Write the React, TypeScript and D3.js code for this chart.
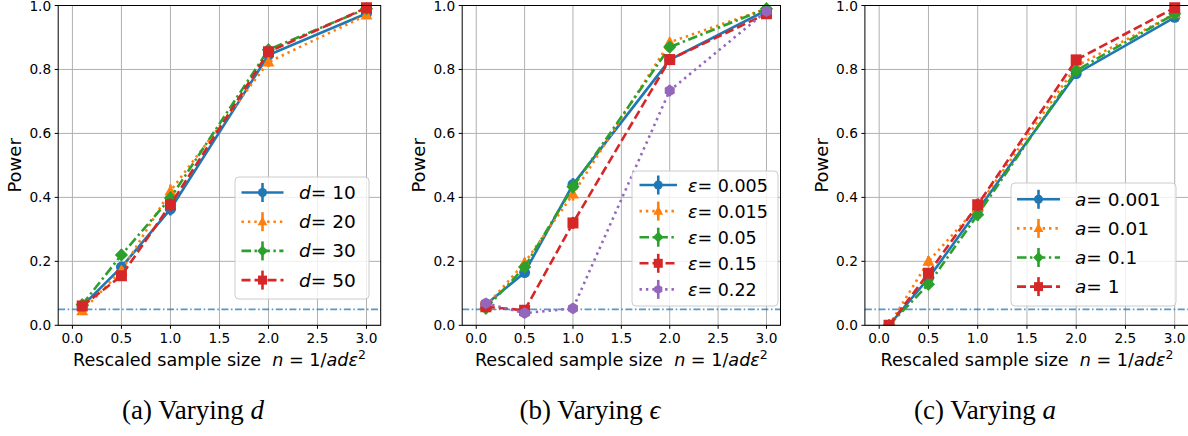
import React from 'react';
import * as d3 from 'd3';

// ---------- data ----------
const XS = [0.1, 0.5, 1.0, 2.0, 3.0];
const X_TICKS = [0, 0.5, 1.0, 1.5, 2.0, 2.5, 3.0];
const Y_TICKS = [0, 0.2, 0.4, 0.6, 0.8, 1.0];
const ALPHA_LEVEL = 0.05;

// (a) varying d
const D_LABELS = ['10', '20', '30', '50'];
const D_10 = [0.06, 0.182, 0.363, 0.845, 0.975];
const D_20 = [0.045, 0.17, 0.42, 0.823, 0.97];
const D_30 = [0.065, 0.22, 0.398, 0.862, 0.99];
const D_50 = [0.06, 0.155, 0.377, 0.855, 0.993];

// (b) varying epsilon
const E_LABELS = ['0.005', '0.015', '0.05', '0.15', '0.22'];
const E_005 = [0.065, 0.165, 0.44, 0.83, 0.985];
const E_015 = [0.06, 0.195, 0.41, 0.885, 0.99];
const E_05 = [0.053, 0.182, 0.433, 0.87, 0.99];
const E_15 = [0.058, 0.047, 0.32, 0.831, 0.974];
const E_22 = [0.069, 0.038, 0.053, 0.734, 0.982];

// (c) varying a
const A_LABELS = ['0.001', '0.01', '0.1', '1'];
const A_0001 = [0.0, 0.147, 0.36, 0.787, 0.963];
const A_001 = [0.0, 0.2, 0.37, 0.81, 0.974];
const A_01 = [0.0, 0.128, 0.346, 0.796, 0.974];
const A_1 = [0.0, 0.163, 0.377, 0.83, 0.993];

const N_TRIALS = 600;

// ---------- styles ----------
const DOTTED = '2.4,4';
const STYLES = [
  { color: '#1f77b4', marker: 'o', dash: null as string | null },
  { color: '#ff7f0e', marker: '^', dash: DOTTED },
  { color: '#2ca02c', marker: 'D', dash: '9.5,3.5,2.4,3.5' },
  { color: '#d62728', marker: 's', dash: '9,4' },
  { color: '#9467bd', marker: 'h', dash: DOTTED },
];

const FONT = 'DejaVu Sans';

function markerPath(m: string, s: number): string {
  const h = s / 2;
  switch (m) {
    case 'o':
      return d3.symbol(d3.symbolCircle, Math.PI * h * h)() as string;
    case 's':
      return `M${-h},${-h}L${h},${-h}L${h},${h}L${-h},${h}Z`;
    case '^': {
      const r = h * 1.15;
      return `M0,${-r}L${r * 0.95},${r * 0.7}L${-r * 0.95},${r * 0.7}Z`;
    }
    case 'D': {
      const r = h * 1.2;
      return `M0,${-r}L${r},0L0,${r}L${-r},0Z`;
    }
    case 'h': {
      const r = h * 1.05;
      const pts = d3.range(6).map((i) => {
        const a = (Math.PI / 3) * i - Math.PI / 2;
        return [r * Math.cos(a), r * Math.sin(a)];
      });
      return 'M' + pts.map((p) => p.join(',')).join('L') + 'Z';
    }
  }
  return '';
}

type PanelProps = {
  left: number;
  right: number;
  top: number;
  bottom: number;
  series: number[][];
  sym: string;
  labels: string[];
  legend: { x: number; y: number; w: number; h: number; rowH: number; font: number; hx0: number; hx1: number; tx: number; firstRow: number };
  caption: { x: number; letter: string; sym: string };
  id: string;
};

function Panel(p: PanelProps) {
  const x = d3.scaleLinear().domain([-0.145, 3.145]).range([p.left, p.right]);
  const y = d3.scaleLinear().domain([0, 1]).range([p.bottom, p.top]);
  const line = d3
    .line<[number, number]>()
    .x((d) => x(d[0]))
    .y((d) => y(d[1]));
  const cx = (p.left + p.right) / 2;
  const clipId = `clip-${p.id}`;
  const lw = 2.6;
  return (
    <g>
      <defs>
        <clipPath id={clipId}>
          <rect x={p.left} y={p.top - 8} width={p.right - p.left} height={p.bottom - p.top + 8} />
        </clipPath>
      </defs>
      {/* grid */}
      {X_TICKS.map((t) => (
        <line key={'gx' + t} x1={x(t)} x2={x(t)} y1={p.top} y2={p.bottom} stroke="#b0b0b0" strokeWidth={1} />
      ))}
      {Y_TICKS.map((t) => (
        <line key={'gy' + t} x1={p.left} x2={p.right} y1={y(t)} y2={y(t)} stroke="#b0b0b0" strokeWidth={1} />
      ))}
      {/* alpha level line */}
      <line
        x1={p.left}
        x2={p.right}
        y1={y(ALPHA_LEVEL)}
        y2={y(ALPHA_LEVEL)}
        stroke="#1f77b4"
        strokeOpacity={0.75}
        strokeWidth={1.7}
        strokeDasharray="7,2.5,1.6,2.5"
      />
      {/* series */}
      <g clipPath={`url(#${clipId})`}>
        {p.series.map((vals, i) => {
          const st = STYLES[i];
          const pts = XS.map((xv, j) => [xv, vals[j]] as [number, number]);
          return (
            <g key={'s' + i}>
              <path
                d={line(pts) as string}
                fill="none"
                stroke={st.color}
                strokeWidth={lw}
                strokeDasharray={st.dash ?? undefined}
              />
              {pts.map((d, j) => {
                const e = Math.sqrt((d[1] * (1 - d[1])) / N_TRIALS);
                return (
                  <line
                    key={'e' + j}
                    x1={x(d[0])}
                    x2={x(d[0])}
                    y1={y(d[1] - e)}
                    y2={y(d[1] + e)}
                    stroke={st.color}
                    strokeWidth={lw}
                  />
                );
              })}
              {pts.map((d, j) => (
                <path key={'m' + j} d={markerPath(st.marker, 11)} transform={`translate(${x(d[0])},${y(d[1])})`} fill={st.color} />
              ))}
            </g>
          );
        })}
      </g>
      {/* spines */}
      <rect x={p.left} y={p.top} width={p.right - p.left} height={p.bottom - p.top} fill="none" stroke="#000" strokeWidth={1} />
      {/* ticks */}
      {X_TICKS.map((t) => (
        <g key={'tx' + t}>
          <line x1={x(t)} x2={x(t)} y1={p.bottom} y2={p.bottom + 3.5} stroke="#000" strokeWidth={1} />
          <text x={x(t)} y={p.bottom + 18} textAnchor="middle" fontFamily={FONT} fontSize={13.7} fill="#000">
            {d3.format('.1f')(t)}
          </text>
        </g>
      ))}
      {Y_TICKS.map((t) => (
        <g key={'ty' + t}>
          <line x1={p.left - 3.5} x2={p.left} y1={y(t)} y2={y(t)} stroke="#000" strokeWidth={1} />
          <text x={p.left - 7} y={y(t) + 5} textAnchor="end" fontFamily={FONT} fontSize={13.7} fill="#000">
            {d3.format('.1f')(t)}
          </text>
        </g>
      ))}
      {/* axis labels */}
      <text
        transform={`translate(${p.left - 37},${(p.top + p.bottom) / 2}) rotate(-90)`}
        textAnchor="middle"
        fontFamily={FONT}
        fontSize={18}
        fill="#000"
      >
        Power
      </text>
      <text x={cx} y={p.bottom + 41} textAnchor="middle" fontFamily={FONT} fontSize={17.6} fill="#000">
        Rescaled sample size{'\u00a0\u00a0'}
        <tspan fontStyle="italic">n</tspan> = 1/<tspan fontStyle="italic">adε</tspan>
        <tspan fontSize={12.5} dy={-7.5}>
          2
        </tspan>
      </text>
      {/* legend */}
      <rect
        x={p.legend.x}
        y={p.legend.y}
        width={p.legend.w}
        height={p.legend.h}
        rx={4}
        fill="#fff"
        fillOpacity={0.8}
        stroke="#cccccc"
        strokeWidth={1}
      />
      {p.labels.map((lab, i) => {
        const st = STYLES[i];
        const ry = p.legend.firstRow + i * p.legend.rowH;
        const hm = (p.legend.hx0 + p.legend.hx1) / 2;
        return (
          <g key={'l' + i}>
            <line
              x1={p.legend.hx0}
              x2={p.legend.hx1}
              y1={ry}
              y2={ry}
              stroke={st.color}
              strokeWidth={lw}
              strokeDasharray={st.dash ?? undefined}
            />
            <line x1={hm} x2={hm} y1={ry - 9.5} y2={ry + 9.5} stroke={st.color} strokeWidth={lw} />
            <path d={markerPath(st.marker, 9)} transform={`translate(${hm},${ry})`} fill={st.color} />
            <text x={p.legend.tx} y={ry + 6.5} fontFamily={FONT} fontSize={p.legend.font} fill="#000">
              <tspan fontStyle="italic">{p.sym}</tspan>= {lab}
            </text>
          </g>
        );
      })}
      {/* caption */}
      <text x={p.caption.x} y={419} textAnchor="middle" fontFamily="Liberation Serif" fontSize={27} fill="#000">
        ({p.caption.letter}) Varying <tspan fontStyle="italic">{p.caption.sym}</tspan>
      </text>
    </g>
  );
}

export default function App() {
  return (
    <svg width={1188} height={436} style={{ position: 'absolute', left: 0, top: 0, background: '#fff' }}>
      <rect x={0} y={0} width={1188} height={436} fill="#fff" />
      <Panel
        id="a"
        left={58.2}
        right={380.7}
        top={5.5}
        bottom={325.3}
        series={[D_10, D_20, D_30, D_50]}
        sym="d"
        labels={D_LABELS}
        legend={{ x: 235, y: 177, w: 134, h: 122, rowH: 29.2, font: 18.5, hx0: 241.5, hx1: 283.5, tx: 299, firstRow: 192.5 }}
        caption={{ x: 193, letter: 'a', sym: 'd' }}
      />
      <Panel
        id="b"
        left={462.2}
        right={780.5}
        top={5.5}
        bottom={325.3}
        series={[E_005, E_015, E_05, E_15, E_22]}
        sym="ε"
        labels={E_LABELS}
        legend={{ x: 632, y: 171, w: 146, h: 135, rowH: 26.1, font: 17.5, hx0: 639.5, hx1: 677, tx: 688, firstRow: 185 }}
        caption={{ x: 590, letter: 'b', sym: 'ϵ' }}
      />
      <Panel
        id="c"
        left={864.9}
        right={1189}
        top={5.5}
        bottom={325.3}
        series={[A_0001, A_001, A_01, A_1]}
        sym="a"
        labels={A_LABELS}
        legend={{ x: 1011, y: 183, w: 165, h: 123, rowH: 29.1, font: 18.5, hx0: 1017, hx1: 1060, tx: 1075, firstRow: 199.3 }}
        caption={{ x: 985, letter: 'c', sym: 'a' }}
      />
    </svg>
  );
}
